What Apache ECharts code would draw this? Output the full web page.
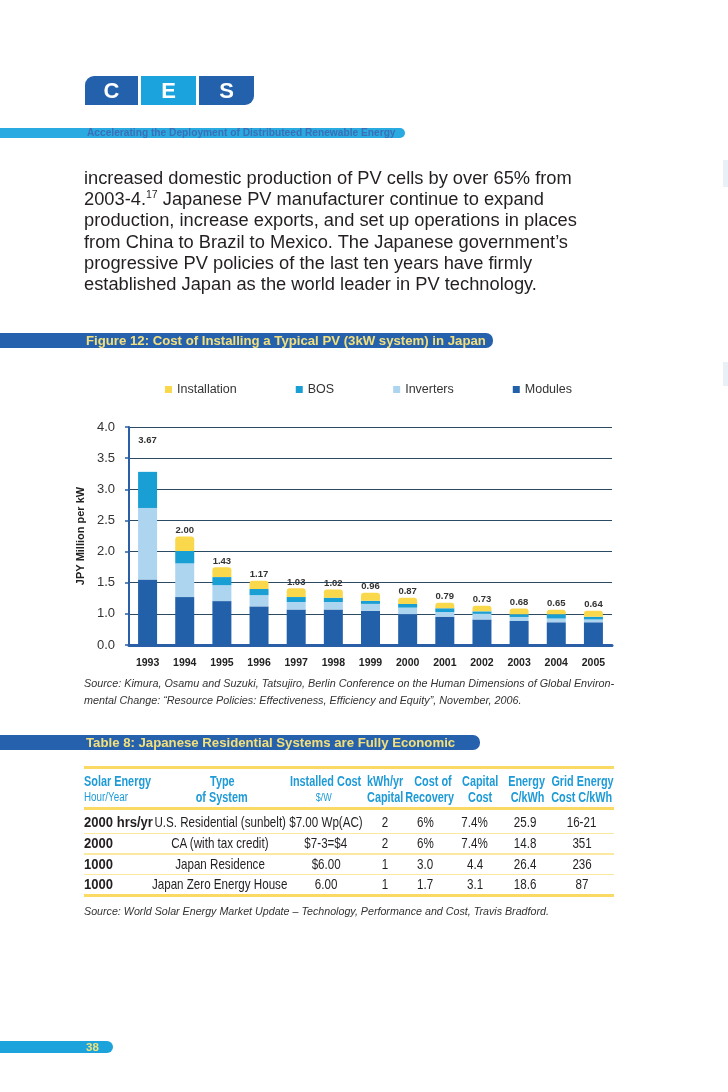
<!DOCTYPE html>
<html><head><meta charset="utf-8">
<script src="https://cdn.jsdelivr.net/npm/echarts@6/dist/echarts.min.js"></script>
<style>
body{margin:0;background:#fff;}
#page{position:relative;width:728px;height:1092px;overflow:hidden;font-family:"Liberation Sans",Arial,sans-serif;color:#231f20;}
#chart{position:absolute;left:0;top:0;width:728px;height:1092px;}
.abs{position:absolute;white-space:nowrap;}
</style></head>
<body><div id="page"><div id="chart"></div></div>
<script>
// ---- chart data (levels read against the drawn axis) ----
const years = ['1993','1994','1995','1996','1997','1998','1999','2000','2001','2002','2003','2004','2005'];
const totalLabels = ['3.67','2.00','1.43','1.17','1.03','1.02','0.96','0.87','0.79','0.73','0.68','0.65','0.64'];
const tickLabels = ['0.0','1.0','1.5','2.0','2.5','3.0','3.5','4.0'];
const modulesTop   = [1.55,1.27,1.205,1.12,1.07,1.07,1.05,0.99,0.91,0.82,0.77,0.73,0.73];
const invertersTop = [2.70,1.81,1.46,1.30,1.19,1.19,1.16,1.10,1.03,1.00,0.90,0.85,0.82];
const bosTop       = [3.28,2.01,1.59,1.40,1.27,1.26,1.21,1.16,1.09,1.04,0.99,0.99,0.91];
const installTop   = [3.28,2.24,1.75,1.53,1.41,1.39,1.34,1.26,1.18,1.13,1.085,1.065,1.05];
const legendNames = ['Installation','BOS','Inverters','Modules'];

// ---- table data ----
const tableHeader1 = ['Solar Energy','Type','Installed Cost','kWh/yr','Cost of','Capital','Energy','Grid Energy'];
const tableHeader2 = ['Hour/Year','of System','$/W','Capital','Recovery','Cost','C/kWh','Cost C/kWh'];
const tableRows = [
  ['2000 hrs/yr','U.S. Residential (sunbelt)','$7.00 Wp(AC)','2','6%','7.4%','25.9','16-21'],
  ['2000','CA (with tax credit)','$7-3=$4','2','6%','7.4%','14.8','351'],
  ['1000','Japan Residence','$6.00','1','3.0','4.4','26.4','236'],
  ['1000','Japan Zero Energy House','6.00','1','1.7','3.1','18.6','87']
];
const paragraphLines = [
  'increased domestic production of PV cells by over 65% from',
  '2003-4.<sup style="font-size:10.5px;vertical-align:7px;line-height:0">17</sup> Japanese PV manufacturer continue to expand',
  'production, increase exports, and set up operations in places',
  'from China to Brazil to Mexico. The Japanese government\u2019s',
  'progressive PV policies of the last ten years have firmly',
  'established Japan as the world leader in PV technology.'
];

// broken axis: 0.0 -> 0, 1.0 -> 1, then every 0.5 is one step
function toAxis(v){ return v <= 1 ? v : 1 + (v - 1) * 2; }
function seg(top, below){ return top.map((t,i)=> +(toAxis(t) - (below ? toAxis(below[i]) : 0)).toFixed(4)); }

const C = {inst:'#FAD84C', bos:'#1A9FD5', inv:'#AED5F0', mod:'#2360AA'};
const FF = '"Liberation Sans", Arial, sans-serif';

const instData = seg(installTop, bosTop).map((v,i)=> i===0 ? {value:v, label:{offset:[0,-25]}} : v);

const chart = echarts.init(document.getElementById('chart'), null, {renderer:'canvas'});
chart.setOption({
  animation:false,
  textStyle:{fontFamily:FF},
  legend:{left:165, top:383, padding:0, itemWidth:7, itemHeight:7, itemGap:59, icon:'rect',
    textStyle:{fontSize:12.5, color:'#333', fontFamily:FF}, data:legendNames},
  grid:{left:129, top:427, width:483, height:218},
  xAxis:{type:'category', data:years,
    axisLine:{lineStyle:{color:'#2A5EA6', width:3}}, axisTick:{show:false},
    axisLabel:{fontSize:10.5, fontWeight:'bold', color:'#222', margin:13, fontFamily:FF}},
  yAxis:{type:'value', min:0, max:7, interval:1,
    axisLine:{show:true, lineStyle:{color:'#2A5EA6', width:2}},
    axisTick:{show:true, length:4, lineStyle:{color:'#2A5EA6', width:1.5}},
    splitLine:{lineStyle:{color:'#2B4A64', width:1}},
    axisLabel:{formatter:(v)=>tickLabels[v], fontSize:13, color:'#333', margin:14, fontFamily:FF},
    name:'JPY Million per kW', nameLocation:'middle', nameGap:40,
    nameTextStyle:{fontSize:11, fontWeight:'bold', color:'#222', fontFamily:FF}},
  series:[
    {name:'Modules', type:'bar', stack:'t', barWidth:19, data:seg(modulesTop), itemStyle:{color:C.mod}},
    {name:'Inverters', type:'bar', stack:'t', data:seg(invertersTop, modulesTop), itemStyle:{color:C.inv}},
    {name:'BOS', type:'bar', stack:'t', data:seg(bosTop, invertersTop), itemStyle:{color:C.bos}},
    {name:'Installation', type:'bar', stack:'t', data:instData,
      itemStyle:{color:C.inst, borderRadius:[3,3,0,0]},
      label:{show:true, position:'top', distance:1, formatter:(p)=>totalLabels[p.dataIndex],
        fontSize:9.5, fontWeight:'bold', color:'#333', fontFamily:FF}}
  ]
});

// ---- page furniture ----
const page = document.getElementById('page');
function el(css, html){
  const d = document.createElement('div'); d.className='abs';
  Object.assign(d.style, css); if(html!=null) d.innerHTML = html; page.appendChild(d); return d;
}
function textAt(txt, x, yc, opts){
  const o = Object.assign({size:13, weight:'normal', color:'#231f20', align:'left', family:FF, style:'normal', sx:1}, opts||{});
  const lh = 18;
  const css = {top:(yc-lh/2)+'px', lineHeight:lh+'px', fontSize:o.size+'px', fontWeight:o.weight,
    color:o.color, fontFamily:o.family, fontStyle:o.style};
  let origin = 'left center';
  if(o.align==='left'){ css.left = x+'px'; }
  else if(o.align==='right'){ css.right = (728-x)+'px'; origin='right center'; }
  else { css.left = (x-150)+'px'; css.width='300px'; css.textAlign='center'; origin='center center'; }
  const inner = o.sx===1 ? txt :
    '<span style="display:inline-block;transform:scaleX('+o.sx+');transform-origin:'+origin+'">'+txt+'</span>';
  return el(css, inner);
}

// CES logo
el({left:'85px', top:'76px', width:'53px', height:'29px', background:'#2461AC', borderTopLeftRadius:'9px'});
el({left:'141px', top:'76px', width:'55px', height:'29px', background:'#1AA3DC'});
el({left:'199px', top:'76px', width:'55px', height:'29px', background:'#2461AC', borderBottomRightRadius:'9px'});
textAt('C', 111.5, 91, {size:22, weight:'bold', color:'#fff', align:'center'});
textAt('E', 168.5, 91, {size:22, weight:'bold', color:'#fff', align:'center'});
textAt('S', 226.5, 91, {size:22, weight:'bold', color:'#fff', align:'center'});
// tagline bar
el({left:'0px', top:'128px', width:'405px', height:'10px', background:'#29ABE2', borderRadius:'0 5px 5px 0'});
textAt('Accelerating the Deployment of Distributeed Renewable Energy', 87, 133, {size:10.2, weight:'bold', color:'#3C6FB5'});

// paragraph
el({left:'84px', top:'167px', fontSize:'18.3px', lineHeight:'21.2px', color:'#231f20'}, paragraphLines.join('<br>'));

// figure title bar
el({left:'0px', top:'333px', width:'493px', height:'15px', background:'#2561AD', borderRadius:'0 7px 7px 0'});
textAt('Figure 12: Cost of Installing a Typical PV (3kW system) in Japan', 86, 341, {size:13.2, weight:'bold', color:'#F3E07C'});

// chart source
textAt('Source: Kimura, Osamu and Suzuki, Tatsujiro, Berlin Conference on the Human Dimensions of Global Environ-', 84, 683, {size:10.8, style:'italic', color:'#333'});
textAt('mental Change: \u201cResource Policies: Effectiveness, Efficiency and Equity\u201d, November, 2006.', 84, 700, {size:10.8, style:'italic', color:'#333'});

// table title bar
el({left:'0px', top:'735px', width:'480px', height:'15px', background:'#2561AD', borderRadius:'0 7px 7px 0'});
textAt('Table 8: Japanese Residential Systems are Fully Economic', 86, 743, {size:13.2, weight:'bold', color:'#F3E07C'});

// table rules
const YL = '#FBD965';
el({left:'84px', top:'766px', width:'530px', height:'3px', background:YL});
el({left:'84px', top:'807px', width:'530px', height:'3px', background:YL});
[832.5, 853, 873.5].forEach(y=> el({left:'84px', top:y+'px', width:'530px', height:'1.5px', background:'#FBE9A0'}));
el({left:'84px', top:'894px', width:'530px', height:'3px', background:YL});

// table header
const HC = '#1E9BD7';
const h1x = [84, 222, 326, 385, 433, 480, 527, 582];
const h2x = [84, 222, 324, 385, 430, 480, 528, 582];
tableHeader1.forEach((t,i)=> textAt(t, h1x[i], 781, {size:14.5, weight:'bold', color:HC, align:i===0?'left':'center', sx:0.75}));
tableHeader2.forEach((t,i)=>{
  const o = {size:14.5, weight:'bold', color:HC, align:i===0?'left':'center', sx:0.75};
  if(i===0){ o.size=12; o.weight='normal'; o.sx=0.82; }
  if(i===2){ o.size=11; o.weight='normal'; o.sx=0.82; }
  textAt(t, h2x[i], 797, o);
});
// table body
const rowY = [822, 843, 863.5, 884];
const colX = [84, 220, 326, 385, 425, 475, 525, 582];
tableRows.forEach((r,ri)=> r.forEach((t,ci)=>{
  textAt(t, colX[ci], rowY[ri], {size:14.5, weight:ci===0?'bold':'normal', color:'#231f20',
    align:ci===0?'left':'center', sx:ci===0?0.9:0.8});
}));
textAt('Source: World Solar Energy Market Update \u2013 Technology, Performance and Cost, Travis Bradford.', 84, 911, {size:10.7, style:'italic', color:'#333'});

// page number tab
el({left:'0px', top:'1041px', width:'113px', height:'12px', background:'#1CA3DC', borderRadius:'0 6px 6px 0'});
textAt('38', 92.5, 1047, {size:11.5, weight:'bold', color:'#F0E27A', align:'center'});

// faint marks at right page edge
el({left:'723px', top:'160px', width:'5px', height:'27px', background:'#E9F1F7'});
el({left:'723px', top:'362px', width:'5px', height:'24px', background:'#E9F1F7'});
</script>
</body></html>
